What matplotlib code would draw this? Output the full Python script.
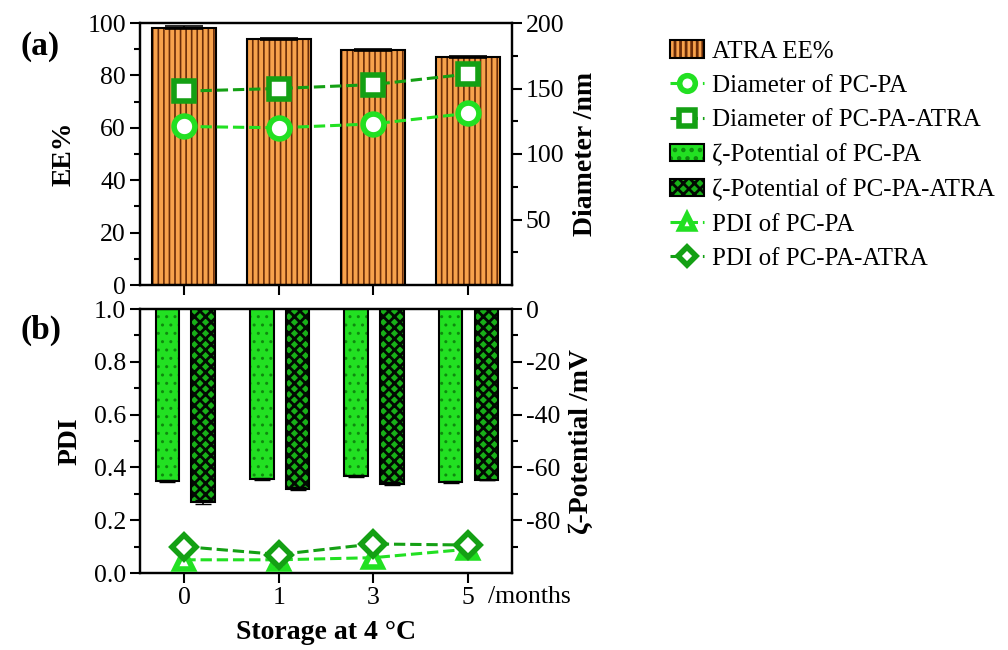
import matplotlib
matplotlib.use('Agg')
import matplotlib.pyplot as plt
import numpy as np

plt.rcParams['font.family'] = ['Liberation Serif', 'DejaVu Serif']
plt.rcParams['font.size'] = 18
plt.rcParams['axes.linewidth'] = 1.6
plt.rcParams['axes.unicode_minus'] = False

months = ['0', '1', '3', '5']

# panel (a)
ee = [98.2, 94.0, 89.6, 87.0]
ee_err = [0.5, 0.4, 0.4, 0.4]
diam_pcpa = [121, 120, 123, 131]
diam_pcpa_atra = [148, 150, 153, 161]

# panel (b)
zeta_pcpa = [-65.2, -64.3, -63.3, -65.6]
zeta_pcpa_err = [0.4, 0.4, 0.4, 0.4]
zeta_pcpa_atra = [-73.2, -68.0, -66.2, -64.6]
zeta_pcpa_atra_err = [0.8, 0.6, 0.5, 0.0]
pdi_pcpa = [0.05, 0.05, 0.058, 0.09]
pdi_pcpa_atra = [0.10, 0.07, 0.11, 0.106]

x = np.arange(len(months))
orange = '#F7A24C'
bright = '#22E022'
dark = '#14A014'

fig = plt.figure(figsize=(10.08, 6.5), dpi=100)
W, H = 1008, 650
axa = fig.add_axes([140/W, 1-285/H, 372/W, 262/H])
axb = fig.add_axes([140/W, 1-573/H, 372/W, 264/H])

# ---- (a) ----
plt.rcParams['hatch.linewidth'] = 1.2
hb = axa.bar(x, ee, 0.68, color=orange, edgecolor='#6B2C08', linewidth=0, hatch='|||')
ob = axa.bar(x, ee, 0.68, fill=False, edgecolor='black', linewidth=1.5)
axa.errorbar(x, ee, yerr=ee_err, fmt='none', ecolor='black', elinewidth=1.2, capsize=14, capthick=1.2)
axa.set_ylim(0, 100)
axa.set_xlim(-0.47, 3.47)
axa.set_yticks(range(0, 101, 20))
axa.set_yticks(range(0, 101, 10), minor=True)
axa.set_xticks(x)
axa.set_xticklabels([])
axa.set_ylabel('EE%', fontweight='bold', fontsize=20, labelpad=8)

ax2 = axa.twinx()
l1, = ax2.plot(x, diam_pcpa, '--', color=bright, lw=2.2, marker='o', ms=15,
               mfc='white', mec=bright, mew=4)
l2, = ax2.plot(x, diam_pcpa_atra, '--', color=dark, lw=2.2, marker='s', ms=15,
               mfc='white', mec=dark, mew=4)
ax2.set_ylim(0, 200)
ax2.set_yticks([50, 100, 150, 200])
ax2.set_yticks(range(25, 200, 25), minor=True)
ax2.set_ylabel('Diameter /nm', fontweight='bold', fontsize=20, labelpad=6)

# ---- (b) ----
axb.set_xlim(-0.47, 3.47)
axb.set_ylim(0, 1)
axb.set_yticks(np.arange(0, 1.01, 0.2))
axb.set_yticklabels(['0.0', '0.2', '0.4', '0.6', '0.8', '1.0'])
axb.set_yticks(np.arange(0, 1.01, 0.1), minor=True)
axb.set_xticks(x)
axb.set_xticklabels(months)
axb.set_ylabel('PDI', fontweight='bold', fontsize=20, labelpad=8)
axb.set_xlabel('Storage at 4 \u00b0C', fontweight='bold', fontsize=20, labelpad=8)
axb.text(3.22, -0.05, '/months', transform=axb.get_xaxis_transform(), ha='left', va='top',
         fontsize=18.5)

axz = axb.twinx()
plt.rcParams['hatch.linewidth'] = 1.0
g1 = axz.bar(x - 0.18, zeta_pcpa, 0.25, color=bright, edgecolor='#0E8A0E', linewidth=0, hatch='..')
g1o = axz.bar(x - 0.18, zeta_pcpa, 0.25, fill=False, edgecolor='black', linewidth=1.5)
plt.rcParams['hatch.linewidth'] = 2.0
g2 = axz.bar(x + 0.2, zeta_pcpa_atra, 0.25, color='#18B018', edgecolor='#020A02', linewidth=0, hatch='xxx')
g2o = axz.bar(x + 0.2, zeta_pcpa_atra, 0.25, fill=False, edgecolor='black', linewidth=1.5)
axz.errorbar(x - 0.18, zeta_pcpa, yerr=zeta_pcpa_err, fmt='none', ecolor='black', elinewidth=1.2, capsize=6)
axz.errorbar(x + 0.2, zeta_pcpa_atra, yerr=zeta_pcpa_atra_err, fmt='none', ecolor='black', elinewidth=1.2, capsize=6)
axz.set_ylim(-100, 0)
axz.set_yticks([-80, -60, -40, -20, 0])
axz.set_yticks(range(-90, 1, 10), minor=True)
axz.set_ylabel('\u03b6-Potential /mV', fontweight='bold', fontsize=20, labelpad=6)

t1, = axb.plot(x, pdi_pcpa, '--', color=bright, lw=2.2, marker='^', ms=13,
               mfc='white', mec=bright, mew=4, zorder=5)
d1, = axb.plot(x, pdi_pcpa_atra, '--', color=dark, lw=2.2, marker='D', ms=12,
               mfc='white', mec=dark, mew=4, zorder=5)
axb.set_zorder(axz.get_zorder() + 1)
axb.patch.set_visible(False)

for ax in (axa, ax2, axb, axz):
    ax.tick_params(which='major', direction='out', length=7, width=1.5, labelsize=18.5, pad=3)
    ax.tick_params(which='minor', direction='out', length=4, width=1.5)

fig.text(20/W, 1-47/H, '(a)', fontsize=24, fontweight='bold', va='center')
fig.text(20/W, 1-330/H, '(b)', fontsize=24, fontweight='bold', va='center')

handles = [(hb[0], ob[0]), l1, l2, (g1[0], g1o[0]), (g2[0], g2o[0]), t1, d1]
labels = ['ATRA EE%', 'Diameter of PC-PA', 'Diameter of PC-PA-ATRA',
          '\u03b6-Potential of PC-PA', '\u03b6-Potential of PC-PA-ATRA',
          'PDI of PC-PA', 'PDI of PC-PA-ATRA']
fig.legend(handles, labels, loc='upper left', bbox_to_anchor=(660/W, 1-30/H),
           frameon=False, fontsize=18, handlelength=1.35, handletextpad=0.35,
           labelspacing=0.48, numpoints=1, borderaxespad=0, markerscale=0.75)

fig.savefig('out.png', dpi=100)
